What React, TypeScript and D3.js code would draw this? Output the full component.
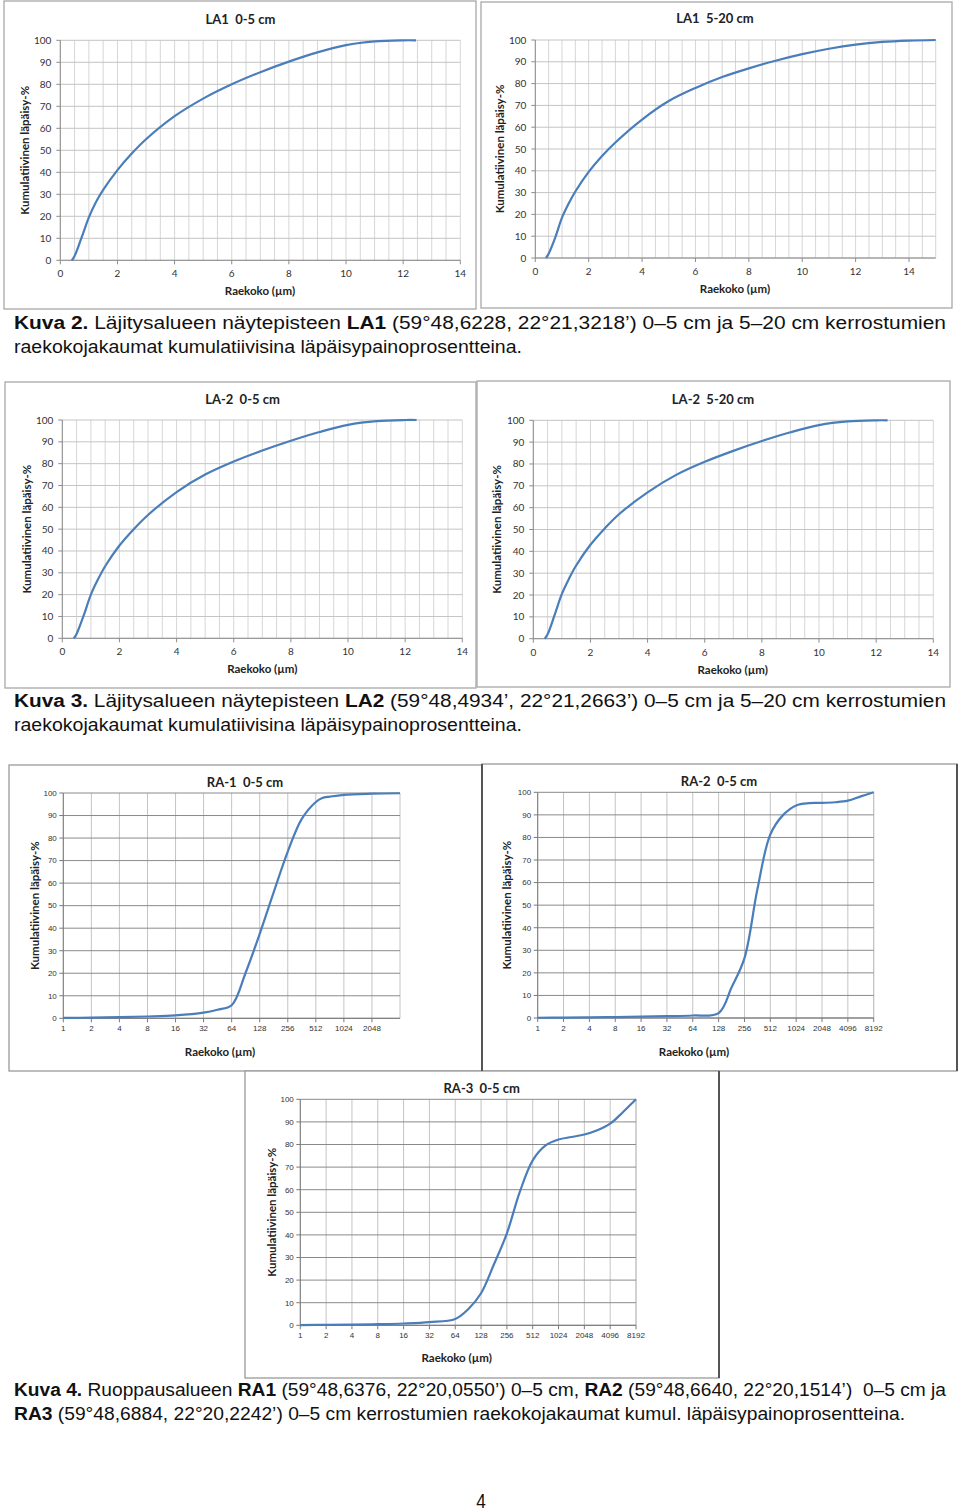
import React from "react";
import * as d3 from "d3";

// ---------- DATA ----------
const Y_TICKS = [0, 10, 20, 30, 40, 50, 60, 70, 80, 90, 100];
const LA_X_TICKS = [0, 2, 4, 6, 8, 10, 12, 14];
const RA1_X_TICKS = [1, 2, 4, 8, 16, 32, 64, 128, 256, 512, 1024, 2048];
const RA23_X_TICKS = [1, 2, 4, 8, 16, 32, 64, 128, 256, 512, 1024, 2048, 4096, 8192];

const LA1_05_SIZE = [0.4, 0.5, 0.75, 1, 1.25, 1.5, 2, 2.5, 3, 4, 5, 6, 7, 8, 9, 10, 11, 12, 12.45];
const LA1_05_PASS = [0, 2, 10.5, 19.5, 26.5, 32, 41, 48.5, 55, 65.5, 73.5, 80, 85.5, 90.3, 94.5, 97.8, 99.5, 100, 100];

const LA1_520_SIZE = [0.4, 0.5, 0.75, 1, 1.25, 1.5, 2, 2.5, 3, 4, 5, 6, 7, 8, 9, 10, 11, 12, 13, 14, 15];
const LA1_520_PASS = [0, 2, 9.5, 18.5, 25, 30.5, 39.5, 46.8, 53, 63.5, 72, 78, 83, 87, 90.5, 93.5, 96, 97.9, 99.1, 99.7, 100];

const LA2_05_SIZE = [0.4, 0.5, 0.75, 1, 1.25, 1.5, 2, 2.5, 3, 4, 5, 6, 7, 8, 9, 10, 11, 12, 12.4];
const LA2_05_PASS = [0, 2, 10.5, 20, 27, 33, 42.5, 50, 56.5, 67, 75, 81, 86, 90.5, 94.5, 97.8, 99.5, 100, 100];

const LA2_520_SIZE = [0.4, 0.5, 0.75, 1, 1.25, 1.5, 2, 2.5, 3, 4, 5, 6, 7, 8, 9, 10, 11, 12, 12.4];
const LA2_520_PASS = [0, 2, 11, 20.5, 27.5, 33.5, 43, 50.5, 57, 67, 75, 81, 86, 90.5, 94.5, 97.8, 99.5, 100, 100];

const RA1_SIZE = [1, 2, 4, 8, 16, 32, 45, 64, 90, 128, 181, 256, 362, 512, 600, 724, 1024, 2048, 4096];
const RA1_PASS = [0.2, 0.3, 0.5, 0.8, 1.3, 2.5, 3.8, 5.8, 20, 37.5, 56, 74, 88.5, 96, 97.8, 98.4, 99.2, 99.7, 99.9];

const RA2_SIZE = [1, 2, 4, 8, 16, 32, 64, 128, 181, 256, 362, 512, 724, 1024, 1448, 2048, 2896, 4096, 5793, 8192];
const RA2_PASS = [0.1, 0.2, 0.3, 0.4, 0.6, 0.8, 1.1, 2.2, 13.5, 26.5, 57, 81.3, 90, 94.2, 95.2, 95.3, 95.6, 96.3, 98.2, 100];

const RA3_SIZE = [1, 2, 4, 8, 16, 32, 64, 90, 128, 181, 256, 362, 512, 724, 1024, 1448, 2048, 2896, 4096, 5793, 8192];
const RA3_PASS = [0.1, 0.2, 0.3, 0.5, 0.8, 1.4, 2.8, 7, 14.2, 27, 40.7, 59, 73, 79.6, 82.2, 83.3, 84.4, 86.3, 89.2, 94.4, 100];

const Y_LABEL = "Kumulatiivinen läpäisy-%";
const X_LABEL = "Raekoko (µm)";

type Seg = { t: string; b?: boolean };
const CAPTION2_L1: Seg[] = [
  { t: "Kuva 2.", b: true },
  { t: " Läjitysalueen näytepisteen " },
  { t: "LA1", b: true },
  { t: " (59°48,6228, 22°21,3218’) 0–5 cm ja 5–20 cm kerrostumien" },
];
const CAPTION2_L2: Seg[] = [{ t: "raekokojakaumat kumulatiivisina läpäisypainoprosentteina." }];
const CAPTION3_L1: Seg[] = [
  { t: "Kuva 3.", b: true },
  { t: " Läjitysalueen näytepisteen " },
  { t: "LA2", b: true },
  { t: " (59°48,4934’, 22°21,2663’) 0–5 cm ja 5–20 cm kerrostumien" },
];
const CAPTION3_L2: Seg[] = [{ t: "raekokojakaumat kumulatiivisina läpäisypainoprosentteina." }];
const CAPTION4_L1: Seg[] = [
  { t: "Kuva 4.", b: true },
  { t: " Ruoppausalueen " },
  { t: "RA1", b: true },
  { t: " (59°48,6376, 22°20,0550’) 0–5 cm, " },
  { t: "RA2", b: true },
  { t: " (59°48,6640, 22°20,1514’)  0–5 cm ja" },
];
const CAPTION4_L2: Seg[] = [
  { t: "RA3", b: true },
  { t: " (59°48,6884, 22°20,2242’) 0–5 cm kerrostumien raekokojakaumat kumul. läpäisypainoprosentteina." },
];

// ---------- STYLE ----------
const BLUE = "#4a7ebb";
const CALIBRI = "Lato, 'Open Sans', 'DejaVu Sans', sans-serif";
const ARIAL = "'Liberation Sans', Arial, sans-serif";
const NARROW = "'Liberation Sans', Arial, sans-serif";
const NARROW_SCALE = 0.86;

type PanelProps = {
  kind: "LA" | "RA";
  frame: { x: number; y: number; w: number; h: number };
  plot: { l: number; r: number; t: number; b: number };
  domain: [number, number];
  xTicks: number[];
  sizes: number[];
  pass: number[];
  title: string;
  titleX: number;
  titleY: number;
  xLabelX: number;
  xLabelY: number;
  yLabelX: number;
};

function Panel(p: PanelProps) {
  const { plot, kind } = p;
  const x =
    kind === "LA"
      ? d3.scaleLinear().domain(p.domain).range([plot.l, plot.r])
      : d3.scaleLog().base(2).domain(p.domain).range([plot.l, plot.r]);
  const y = d3.scaleLinear().domain([0, 100]).range([plot.b, plot.t]);
  const pts = p.sizes.map((s, i) => [s, p.pass[i]] as [number, number]);
  const line = d3
    .line<[number, number]>()
    .x((d) => x(d[0]))
    .y((d) => Math.max(plot.t, y(d[1])))
    .curve(d3.curveCatmullRom.alpha(0.5));
  const vGrid =
    kind === "LA"
      ? d3.range(p.domain[0], p.domain[1] + 0.001, 0.5)
      : [...p.xTicks, p.domain[1]];
  const vCol = kind === "LA" ? "#d6d6d6" : "#c4c4c4";
  const hCol = kind === "LA" ? "#c4c4c4" : "#8a8a8a";
  const axisCol = kind === "LA" ? "#8c8c8c" : "#7a7a7a";
  const tickFont = kind === "LA" ? CALIBRI : ARIAL;
  const tickSize = kind === "LA" ? 10 : 8;
  const xTickDy = kind === "LA" ? 17 : 12.5;
  const yTickDx = kind === "LA" ? 9 : 6.5;
  return (
    <g>
      <rect
        x={p.frame.x}
        y={p.frame.y}
        width={p.frame.w}
        height={p.frame.h}
        fill="#fff"
        stroke={kind === "LA" ? "#a8a8a8" : "#9a9a9a"}
        strokeWidth={1.3}
      />
      {vGrid.map((v, i) => (
        <line key={"v" + i} x1={x(v)} x2={x(v)} y1={plot.t} y2={plot.b} stroke={vCol} strokeWidth={1} />
      ))}
      {Y_TICKS.map((v) => (
        <line key={"h" + v} x1={plot.l} x2={plot.r} y1={y(v)} y2={y(v)} stroke={hCol} strokeWidth={1} />
      ))}
      <line x1={plot.l} x2={plot.l} y1={plot.t} y2={plot.b} stroke={axisCol} strokeWidth={1} />
      <line x1={plot.l} x2={plot.r} y1={plot.b} y2={plot.b} stroke={axisCol} strokeWidth={1} />
      {Y_TICKS.map((v) => (
        <g key={"yt" + v}>
          <line x1={plot.l - 4} x2={plot.l} y1={y(v)} y2={y(v)} stroke={axisCol} />
          <text
            x={plot.l - yTickDx}
            y={y(v)}
            dy="0.35em"
            textAnchor="end"
            fontFamily={tickFont}
            fontSize={tickSize}
            fill="#333"
          >
            {v}
          </text>
        </g>
      ))}
      {p.xTicks.map((v) => (
        <g key={"xt" + v}>
          <line x1={x(v)} x2={x(v)} y1={plot.b} y2={plot.b + 4} stroke={axisCol} />
          <text
            x={x(v)}
            y={plot.b + xTickDy}
            textAnchor="middle"
            fontFamily={tickFont}
            fontSize={tickSize}
            fill="#333"
          >
            {v}
          </text>
        </g>
      ))}
      <path d={line(pts) || ""} fill="none" stroke={BLUE} strokeWidth={2.2} strokeLinejoin="round" />
      <text
        x={p.titleX}
        y={p.titleY}
        textAnchor="middle"
        fontFamily={CALIBRI}
        fontWeight="bold"
        fontSize={13}
        fill="#222"
        style={{ whiteSpace: "pre" }}
      >
        {p.title}
      </text>
      <text
        x={p.xLabelX}
        y={p.xLabelY}
        textAnchor="middle"
        fontFamily={CALIBRI}
        fontWeight="bold"
        fontSize={11.5}
        fill="#222"
      >
        {X_LABEL}
      </text>
      <text
        transform={`translate(${p.yLabelX},${(plot.t + plot.b) / 2}) rotate(-90)`}
        textAnchor="middle"
        dy="0.35em"
        fontFamily={CALIBRI}
        fontWeight="bold"
        fontSize={11.5}
        fill="#222"
      >
        {Y_LABEL}
      </text>
    </g>
  );
}

function Caption({ segs, x, y, width }: { segs: Seg[]; x: number; y: number; width: number }) {
  return (
    <text
      transform={`scale(${NARROW_SCALE},1)`}
      x={x / NARROW_SCALE}
      y={y}
      fontFamily={NARROW}
      fontSize={18.5}
      fill="#111"
      textLength={width / NARROW_SCALE}
      lengthAdjust="spacingAndGlyphs"
      style={{ whiteSpace: "pre" }}
    >
      {segs.map((s, i) => (
        <tspan key={i} fontWeight={s.b ? "bold" : "normal"}>
          {s.t}
        </tspan>
      ))}
    </text>
  );
}

export default function App() {
  return (
    <svg
      width={960}
      height={1511}
      style={{ position: "absolute", left: 0, top: 0, background: "#fff" }}
    >
      <rect x={0} y={0} width={960} height={1511} fill="#fff" />
      <Panel
        kind="LA"
        frame={{ x: 4, y: 1, w: 472, h: 308 }}
        plot={{ l: 60.3, r: 460.3, t: 40.3, b: 260.3 }}
        domain={[0, 14]}
        xTicks={LA_X_TICKS}
        sizes={LA1_05_SIZE}
        pass={LA1_05_PASS}
        title="LA1  0-5 cm"
        titleX={240.5}
        titleY={23.5}
        xLabelX={260}
        xLabelY={295}
        yLabelX={25}
      />
      <Panel
        kind="LA"
        frame={{ x: 481, y: 2, w: 471, h: 306 }}
        plot={{ l: 535.3, r: 935.7, t: 40, b: 258 }}
        domain={[0, 15]}
        xTicks={LA_X_TICKS}
        sizes={LA1_520_SIZE}
        pass={LA1_520_PASS}
        title="LA1  5-20 cm"
        titleX={715}
        titleY={23}
        xLabelX={735}
        xLabelY={292.5}
        yLabelX={499.5}
      />
      <Panel
        kind="LA"
        frame={{ x: 5, y: 382, w: 471, h: 306 }}
        plot={{ l: 62.3, r: 462.3, t: 420, b: 638.3 }}
        domain={[0, 14]}
        xTicks={LA_X_TICKS}
        sizes={LA2_05_SIZE}
        pass={LA2_05_PASS}
        title="LA-2  0-5 cm"
        titleX={242.5}
        titleY={403.5}
        xLabelX={262.3}
        xLabelY={673}
        yLabelX={26.7}
      />
      <Panel
        kind="LA"
        frame={{ x: 477, y: 381, w: 473, h: 306 }}
        plot={{ l: 533.3, r: 933.3, t: 420.3, b: 638.7 }}
        domain={[0, 14]}
        xTicks={LA_X_TICKS}
        sizes={LA2_520_SIZE}
        pass={LA2_520_PASS}
        title="LA-2  5-20 cm"
        titleX={713}
        titleY={403.5}
        xLabelX={732.7}
        xLabelY={673.5}
        yLabelX={496.7}
      />
      <Panel
        kind="RA"
        frame={{ x: 9, y: 765, w: 473, h: 306 }}
        plot={{ l: 63.3, r: 400, t: 793, b: 1018.3 }}
        domain={[1, 4096]}
        xTicks={RA1_X_TICKS}
        sizes={RA1_SIZE}
        pass={RA1_PASS}
        title="RA-1  0-5 cm"
        titleX={245}
        titleY={786.5}
        xLabelX={220}
        xLabelY={1056}
        yLabelX={35}
      />
      <Panel
        kind="RA"
        frame={{ x: 482, y: 764, w: 475, h: 307 }}
        plot={{ l: 537.7, r: 873.7, t: 792.3, b: 1018 }}
        domain={[1, 8192]}
        xTicks={RA23_X_TICKS}
        sizes={RA2_SIZE}
        pass={RA2_PASS}
        title="RA-2  0-5 cm"
        titleX={719}
        titleY={785.5}
        xLabelX={694}
        xLabelY={1055.5}
        yLabelX={506.7}
      />
      <Panel
        kind="RA"
        frame={{ x: 245, y: 1071, w: 474, h: 307 }}
        plot={{ l: 300.3, r: 636, t: 1099.3, b: 1325.3 }}
        domain={[1, 8192]}
        xTicks={RA23_X_TICKS}
        sizes={RA3_SIZE}
        pass={RA3_PASS}
        title="RA-3  0-5 cm"
        titleX={481.7}
        titleY={1092.5}
        xLabelX={456.7}
        xLabelY={1361.5}
        yLabelX={271.7}
      />
      <line x1={482} x2={482} y1={764} y2={1071} stroke="#555" strokeWidth={2} />
      <line x1={957} x2={957} y1={764} y2={1071} stroke="#555" strokeWidth={2} />
      <line x1={719} x2={719} y1={1071} y2={1378} stroke="#555" strokeWidth={2} />

      <Caption segs={CAPTION2_L1} x={14} y={329} width={932} />
      <Caption segs={CAPTION2_L2} x={14} y={353} width={508} />
      <Caption segs={CAPTION3_L1} x={14} y={707} width={932} />
      <Caption segs={CAPTION3_L2} x={14} y={731} width={508} />
      <Caption segs={CAPTION4_L1} x={14} y={1396} width={932} />
      <Caption segs={CAPTION4_L2} x={14} y={1420} width={891} />
      <text
        transform={`scale(${NARROW_SCALE},1)`}
        x={481 / NARROW_SCALE}
        y={1508}
        textAnchor="middle"
        fontFamily={NARROW}
        fontSize={20}
        fill="#111"
      >
        4
      </text>
    </svg>
  );
}
